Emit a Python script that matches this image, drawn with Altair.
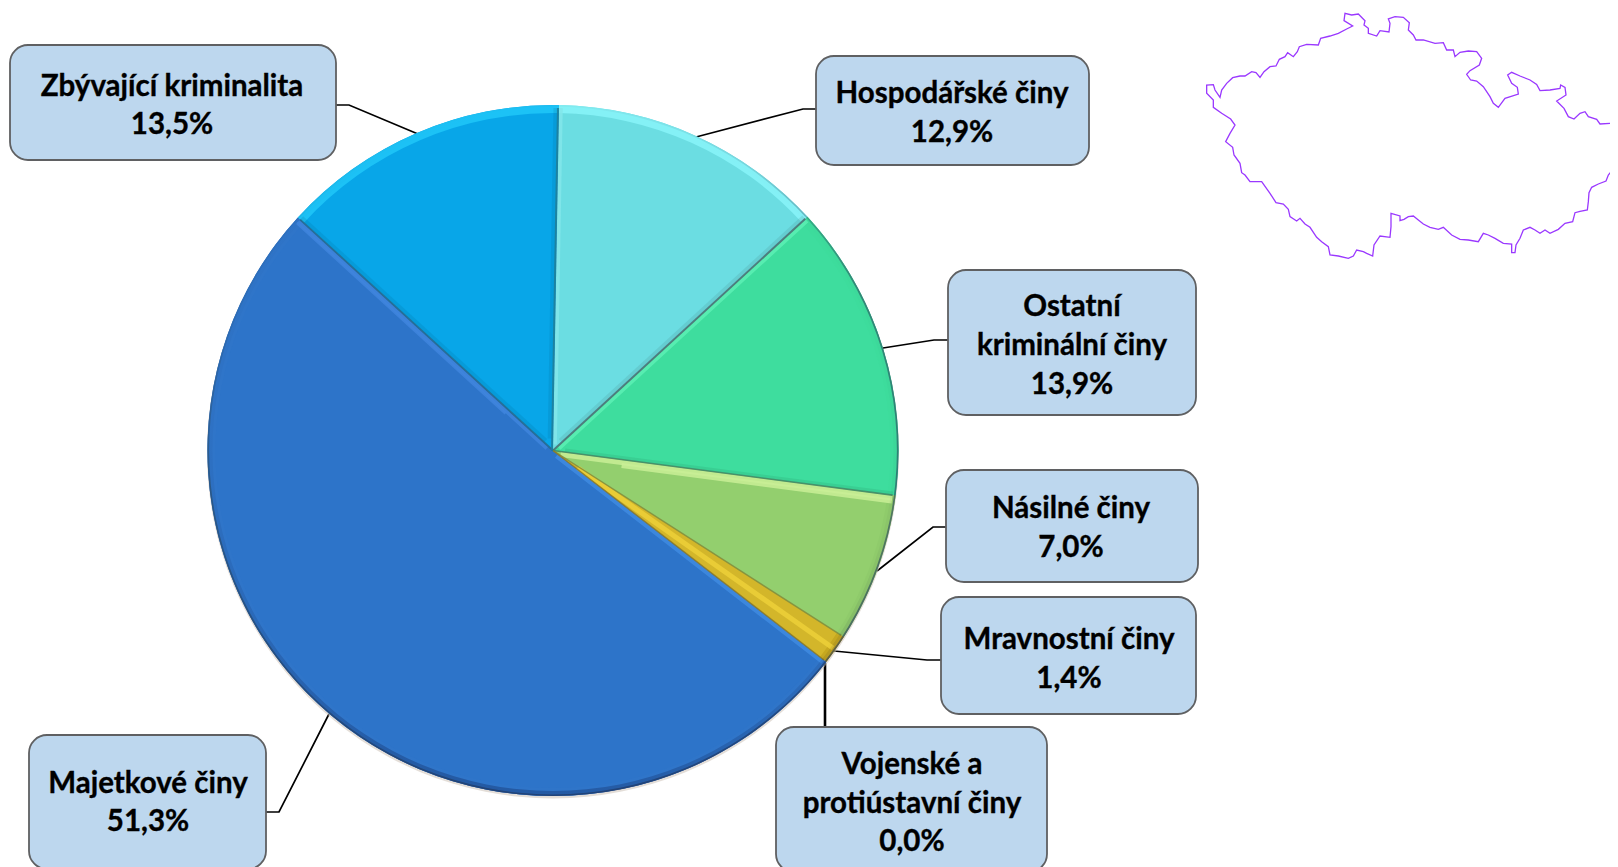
import math
import altair as alt
import pandas as pd

# ---- data ----
names = ["Hospodářské činy", "Ostatní kriminální činy", "Násilné činy", "Mravnostní činy",
         "Vojenské a protiústavní činy", "Majetkové činy", "Zbývající kriminalita"]
shares = [12.9, 13.9, 7.0, 1.4, 0.0, 51.3, 13.5]
colors = ["#6bdde2", "#3edd9e", "#93cf6e", "#d3b62a", "#a0a0a0", "#2d74c9", "#08a6e8"]
rim_colors = ["#84f1f6", "#3ddc9c", "#8fcb6b", "#c6a820", "#a0a0a0", "#2f75c9", "#1cc2f6"]

box_lines = [
    ["Hospodářské činy", "12,9%"],
    ["Ostatní", "kriminální činy", "13,9%"],
    ["Násilné činy", "7,0%"],
    ["Mravnostní činy", "1,4%"],
    ["Vojenské a", "protiústavní činy", "0,0%"],
    ["Majetkové činy", "51,3%"],
    ["Zbývající kriminalita", "13,5%"],
]
box_x = [816, 948, 946, 941, 776, 29, 10]
box_x2 = [1089, 1196, 1198, 1196, 1047, 266, 336]
box_y = [56, 270, 470, 597, 727, 735, 45]
box_y2 = [165, 415, 582, 714, 872, 869, 160]
text_x = [952, 1072, 1071, 1069, 912, 148, 172]
text_y = [[94, 133], [307, 346, 385], [509, 548], [640, 679], [765, 804, 842], [784, 822], [87, 125]]

leaders = [
    [(816, 109), (803, 109), (696, 137)],
    [(948, 340), (934, 340), (883, 348)],
    [(946, 527), (933, 527), (877, 571)],
    [(941, 660), (927, 660), (834, 651)],
    [(825, 727), (825, 663)],
    [(266, 812), (279, 812), (329, 714)],
    [(336, 105), (349, 105), (418, 134)],
]
thick_leader = 4

# map outline, in pixels of a 3x crop whose corner is at (1190, 0)
map_pts = [
    (1284,495),(1268,510),(1255,525),(1248,543),(1225,552),(1205,562),(1197,578),(1195,605),(1192,630),(1170,634),(1155,638),
    (1148,665),(1125,670),(1105,688),(1080,700),(1065,690),(1050,700),(1035,690),(1020,682),(1000,690),(990,715),(978,735),
    (975,758),(965,758),(965,732),(940,730),(915,715),(895,705),(880,700),(865,725),(835,720),(810,718),(785,705),(760,682),
    (745,688),(720,682),(700,672),(685,660),(670,648),(655,650),(642,658),(630,662),(630,648),(603,640),(603,680),(600,712),
    (570,708),(552,735),(548,768),(530,760),(520,755),(500,750),(490,768),(475,775),(445,768),(420,765),(415,740),(395,725),
    (380,712),(360,682),(345,672),(330,655),(320,663),(300,650),(295,628),(280,612),(258,608),(240,580),(215,545),(180,545),
    (165,525),(155,518),(150,490),(132,465),(128,442),(107,425),(120,400),(135,375),(122,357),(95,340),(70,322),(70,300),
    (50,280),(50,255),(70,254),(75,270),(90,292),(95,270),(110,250),(128,233),(150,228),(165,228),(185,215),(198,218),
    (210,232),(222,215),(240,200),(258,198),(268,178),(285,170),(293,158),(310,170),(322,155),(328,140),(350,133),(385,135),
    (392,115),(420,108),(445,100),(470,87),(488,78),(462,62),(465,40),(485,45),(505,42),(525,62),(522,75),(535,85),
    (535,100),(560,108),(570,92),(597,96),(600,70),(595,57),(615,50),(640,52),(658,68),(655,90),(670,105),(678,120),
    (700,120),(735,130),(760,128),(770,150),(790,150),(795,170),(810,157),(835,153),(860,155),(875,175),(868,195),(840,212),
    (830,223),(842,240),(860,243),(880,260),(900,290),(910,310),(925,322),(945,295),(985,282),(982,262),(965,250),(953,225),
    (965,217),(990,228),(1020,240),(1040,253),(1050,272),(1080,270),(1110,265),(1112,255),(1125,262),(1128,285),(1100,303),(1122,325),
    (1135,350),(1152,357),(1170,340),(1185,335),(1195,350),(1220,358),(1230,372),(1260,370),(1280,375),(1284,405),
]

CX, CY, R = 553, 450.5, 345.5
A0 = math.radians(1.0)
FONT = "Lato"
THETA = alt.Theta("v:Q", stack=True, scale=alt.Scale(domain=[0, 100], range=[A0, A0 + 2 * math.pi]))

# ---- tables ----
slices = pd.DataFrame({"name": names, "v": shares, "i": range(len(names)), "rim": rim_colors})
boxes = pd.DataFrame({"x": box_x, "x2": box_x2, "y": box_y, "y2": box_y2})
texts = pd.DataFrame([
    {"x": text_x[k], "y": yy, "t": t}
    for k, (ls, ys) in enumerate(zip(box_lines, text_y))
    for t, yy in zip(ls, ys)
])
lead = pd.DataFrame([
    {"id": k, "o": j, "x": p[0], "y": p[1]}
    for k, pts in enumerate(leaders) if k != thick_leader
    for j, p in enumerate(pts)
])
lead2 = pd.DataFrame([
    {"o": j, "x": p[0], "y": p[1]} for j, p in enumerate(leaders[thick_leader])
])
outline = pd.DataFrame([
    {"o": j, "x": 1190 + p[0] / 3, "y": p[1] / 3} for j, p in enumerate(map_pts)
])


def seam(cum, off, r0=6, r1=R - 3):
    a = A0 + cum / 100 * 2 * math.pi
    ux, uy = math.sin(a), -math.cos(a)
    px, py = math.cos(a), math.sin(a)  # clockwise side
    return {"x": CX + ux * r0 + px * off, "y": CY + uy * r0 + py * off,
            "x2": CX + ux * r1 + px * off, "y2": CY + uy * r1 + py * off}


soft = pd.DataFrame([
    {**seam(12.9, -2.5, 12), "c": "#3d6f74", "w": 4},
    {**seam(26.8, -2, 12), "c": "#1f7f58", "w": 3},
    {**seam(86.5, 2.5, 12), "c": "#005f88", "w": 4},
    {**seam(100, -3, 12), "c": "#005f88", "w": 5},
])
light = pd.DataFrame([
    {**seam(12.9, 2.5, 6), "c": "#5cf0b4", "w": 4},
    {**seam(26.8, 3, 8), "c": "#c9ef96", "w": 5},
    {**seam(26.8, 6, 70), "c": "#c9ef96", "w": 5},
    {**seam(34.5, 0, 30), "c": "#ecd038", "w": 5},
    {**seam(35.2, 2.5, 6), "c": "#3f8be0", "w": 4},
    {**seam(86.5, -2.5, 6), "c": "#3f85dd", "w": 4},
    {**seam(86.5, -4.5, 60), "c": "#3f85dd", "w": 3},
    {**seam(100, 2, 6), "c": "#82e6ea", "w": 3.5},
])
dark = pd.DataFrame([
    {**seam(12.9, 0, 0), "c": "#4a7276", "w": 2},
    {**seam(26.8, 0, 0), "c": "#3f8a66", "w": 1.6},
    {**seam(33.8, 0, 0), "c": "#7f8f3c", "w": 1.4},
    {**seam(35.2, 0, 0), "c": "#8a7a2a", "w": 1.4},
    {**seam(86.5, 0, 0), "c": "#25698f", "w": 1.8},
    {**seam(100, -1, 0), "c": "#1f7f9a", "w": 2},
])

# ---- scales ----
xs = alt.Scale(domain=[8, 1610], nice=False, zero=False)
ys = alt.Scale(domain=[8, 867], reverse=True, nice=False, zero=False)
X = lambda f: alt.X(f, type="quantitative", scale=xs, axis=None)
Y = lambda f: alt.Y(f, type="quantitative", scale=ys, axis=None)
pos = dict(x=alt.value(CX - 8), y=alt.value(CY - 8))

one = pd.DataFrame({"k": [0]})

shadow = alt.Chart(one).mark_arc(theta=0, theta2=2 * math.pi, outerRadius=R + 0.5, fill="#c9beb2", opacity=0.5).encode(
    x=alt.value(CX - 8), y=alt.value(CY - 6))

pie = alt.Chart(slices).mark_arc(outerRadius=R).encode(
    **pos, theta=THETA, order=alt.Order("i:Q"),
    color=alt.Color("name:N", scale=alt.Scale(domain=names, range=colors), legend=None),
)
rim_slices = alt.Chart(slices).mark_arc(innerRadius=R - 8, outerRadius=R).encode(
    **pos, theta=THETA, order=alt.Order("i:Q"), color=alt.Color("rim:N", scale=None),
)

shade_grad = alt.Gradient(
    gradient="linear", x1=0.6, y1=0, x2=0.45, y2=1,
    stops=[
        alt.GradientStop(offset=0, color="rgba(0,0,40,0)"),
        alt.GradientStop(offset=0.55, color="rgba(0,0,40,0.03)"),
        alt.GradientStop(offset=0.8, color="rgba(0,0,40,0.10)"),
        alt.GradientStop(offset=1, color="rgba(0,0,40,0.24)"),
    ],
)
shade = alt.Chart(one).mark_arc(theta=0, theta2=2 * math.pi, innerRadius=R - 5, outerRadius=R, fill=shade_grad).encode(**pos)
edge_grad = alt.Gradient(
    gradient="linear", x1=0.35, y1=0, x2=0.65, y2=1,
    stops=[
        alt.GradientStop(offset=0, color="rgba(40,70,90,0)"),
        alt.GradientStop(offset=0.2, color="rgba(40,70,90,0.15)"),
        alt.GradientStop(offset=0.4, color="rgba(40,70,90,0.55)"),
        alt.GradientStop(offset=1, color="rgba(30,50,90,0.6)"),
    ],
)
edge = alt.Chart(one).mark_arc(theta=0, theta2=2 * math.pi, innerRadius=R - 1.6, outerRadius=R, fill=edge_grad).encode(**pos)

seam_kw = dict(
    x=X("x"), y=Y("y"), x2=alt.X2("x2"), y2=alt.Y2("y2"),
    color=alt.Color("c:N", scale=None), strokeWidth=alt.StrokeWidth("w:Q", scale=None),
)
seams_soft = alt.Chart(soft).mark_rule(opacity=0.15).encode(**seam_kw)
seams_light = alt.Chart(light).mark_rule(opacity=0.85).encode(**seam_kw)
seams_dark = alt.Chart(dark).mark_rule(opacity=0.9).encode(**seam_kw)

leader_lines = alt.Chart(lead).mark_line(color="#000000", strokeWidth=1.7).encode(
    x=X("x"), y=Y("y"), detail="id:N", order="o:Q")
leader_thick = alt.Chart(lead2).mark_line(color="#000000", strokeWidth=2.6).encode(
    x=X("x"), y=Y("y"), order="o:Q")

box_marks = alt.Chart(boxes).mark_rect(fill="#bdd7ee", stroke="#5f6062", strokeWidth=1.8, cornerRadius=18).encode(
    x=X("x"), y=Y("y"), x2=alt.X2("x2"), y2=alt.Y2("y2"))

labels = alt.Chart(texts).mark_text(font=FONT, fontWeight="bold", fontSize=29.5, color="#000000", baseline="middle",
                                    stroke="#000000", strokeWidth=0.35).encode(
    x=X("x"), y=Y("y"), text="t:N")

map_line = alt.Chart(outline).mark_line(color="#9a38ff", strokeWidth=1.3, clip=True).encode(
    x=X("x"), y=Y("y"), order="o:Q")

chart = alt.layer(
    leader_lines, leader_thick, shadow, pie, rim_slices, seams_soft, seams_light, seams_dark, shade, edge,
    box_marks, labels, map_line
).resolve_scale(color="independent").properties(
    width=1602, height=859, padding=0, autosize=alt.AutoSizeParams(type="none")
).configure_view(stroke=None)

chart.save("out.html", embed_options={"renderer": "svg", "actions": False})
